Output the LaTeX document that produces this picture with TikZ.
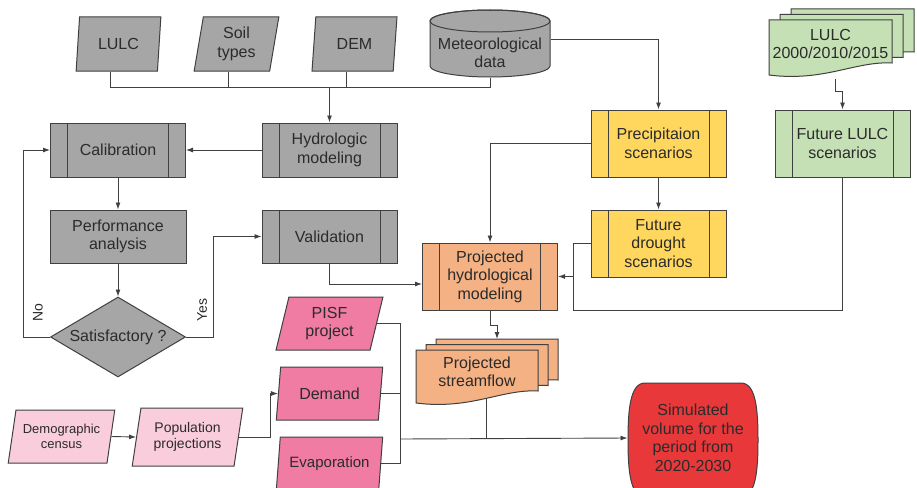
\documentclass[tikz,border=0pt]{standalone}
\usepackage{fontspec}
\setmainfont{Liberation Sans}
\usetikzlibrary{arrows.meta,calc,positioning,shapes.geometric}

\definecolor{boxgray}{HTML}{A6A6A6}
\definecolor{boxyellow}{HTML}{FFD75E}
\definecolor{boxgreen}{HTML}{C5E0B4}
\definecolor{boxorange}{HTML}{F4B183}
\definecolor{boxpink}{HTML}{F07CA3}
\definecolor{boxlightpink}{HTML}{FACDDC}
\definecolor{boxred}{HTML}{E8383A}
\definecolor{edgegray}{HTML}{404040}
\definecolor{inkgray}{HTML}{2B2B2B}

\tikzset{
  base/.style={draw=edgegray, line width=1pt, text=inkgray, align=center, inner sep=0pt,
    font=\fontsize{16}{18.5}\selectfont},
  process/.style={base, rectangle, minimum width=135pt, minimum height=67pt,
    path picture={
      \draw[edgegray, line width=1pt]
        ([xshift=17pt]path picture bounding box.north west) -- ([xshift=17pt]path picture bounding box.south west)
        ([xshift=-17pt]path picture bounding box.north east) -- ([xshift=-17pt]path picture bounding box.south east);}},
  plainbox/.style={base, rectangle, minimum width=136pt, minimum height=53pt},
  datain/.style={base, trapezium, trapezium left angle=81, trapezium right angle=99,
    trapezium stretches=true, minimum width=85pt, minimum height=54pt},
  demandin/.style={datain, fill=boxpink, minimum width=107pt, minimum height=53pt,
    trapezium left angle=77, trapezium right angle=103},
  sidelabel/.style={text=inkgray, inner sep=0pt, rotate=90, font=\fontsize{14}{16}\selectfont},
  link/.style={draw=edgegray, line width=0.9pt},
  arrowlink/.style={link, -{Latex[length=7pt,width=5pt]}},
}

% one sheet of a stacked document: fill, x, y (top left), width, height
\newcommand{\docsheet}[5]{%
  \filldraw[fill=#1, draw=edgegray, line width=1pt]
    (#2,#3) -- ({#2+#4},#3) -- ({#2+#4},{#3+#5-12})
    .. controls ({#2+0.7*#4},{#3+#5-14}) and ({#2+0.45*#4},{#3+#5+7}) .. (#2,{#3+#5}) -- cycle;}

\begin{document}
\begin{tikzpicture}[x=1pt,y=-1pt]
\fill[white] (0,0) rectangle (917,487);
\useasboundingbox (0,0) rectangle (917,487);

% input data
\node[datain, fill=boxgray] (lulc) at (118.5,44) {LULC};
\node[datain, fill=boxgray] (soil) at (236.5,44) {Soil\\types};
\node[datain, fill=boxgray] (dem) at (354.5,44) {DEM};

\filldraw[fill=boxgray, draw=edgegray, line width=1pt]
  (430,21) -- (430,66) arc[start angle=180, end angle=0, x radius=60, y radius=11]
  -- (550,21) arc[start angle=0, end angle=-180, x radius=60, y radius=11] -- cycle;
\draw[edgegray, line width=1pt] (490,21) ellipse[x radius=60, y radius=11];
\node[base, draw=none, minimum width=120pt, minimum height=48pt] (met) at (490,53) {Meteorological\\data};

\docsheet{boxgreen}{791}{9}{123}{55}
\docsheet{boxgreen}{780}{14.5}{123}{55}
\docsheet{boxgreen}{769}{20}{123}{55}
\node[base, draw=none] (lulcdocs) at (830.5,44) {LULC\\2000/2010/2015};

% hydrologic model
\node[process, fill=boxgray, minimum height=54pt] (hydro) at (329.5,150) {Hydrologic\\modeling};
\node[process, fill=boxgray, minimum height=54pt] (calib) at (118,150) {Calibration};
\node[plainbox, fill=boxgray] (perf) at (118,236.5) {Performance\\analysis};
\node[base, diamond, fill=boxgray, minimum width=135pt, minimum height=80pt, aspect=1.7] (satis) at (118,337) {Satisfactory ?};
\node[process, fill=boxgray, minimum height=53pt] (valid) at (329.5,236.5) {Validation};

% scenarios
\node[process, fill=boxyellow] (precip) at (658.5,143.5) {Precipitaion\\scenarios};
\node[process, fill=boxyellow] (drought) at (658.5,243.5) {Future\\drought\\scenarios};
\node[process, fill=boxgreen] (futlulc) at (842.5,143.5) {Future LULC\\scenarios};
\node[process, fill=boxorange] (projhyd) at (490,276.5) {Projected\\hydrological\\modeling};

\docsheet{boxorange}{436}{339}{122}{53}
\docsheet{boxorange}{426}{344.5}{122}{53}
\docsheet{boxorange}{416}{350}{122}{53}
\node[base, draw=none] (flow) at (477,372) {Projected\\streamflow};

% demand side
\node[demandin] (pisf) at (329.5,323.5) {PISF\\project};
\node[demandin] (demand) at (329.5,393.5) {Demand};
\node[demandin, font=\fontsize{15}{18}\selectfont] (evap) at (329.5,463.5) {Evaporation};
\node[datain, fill=boxlightpink, minimum width=107pt, minimum height=53pt,
  trapezium left angle=75, trapezium right angle=105, font=\fontsize{13}{15}\selectfont]
  (census) at (61.5,436.5) {Demographic\\census};
\node[datain, fill=boxlightpink, minimum width=111pt, minimum height=58pt,
  trapezium left angle=77.5, trapezium right angle=102.5, font=\fontsize{14}{15.5}\selectfont]
  (popproj) at (187.5,437) {Population\\projections};

\filldraw[fill=boxred, draw=edgegray, line width=1pt]
  (645,383) -- (741,383) .. controls (756,383) and (758,410) .. (758,440)
  .. controls (758,470) and (756,497) .. (741,497) -- (645,497)
  .. controls (630,497) and (628,470) .. (628,440)
  .. controls (628,410) and (630,383) .. (645,383) -- cycle;
\node[base, draw=none, minimum width=130pt, minimum height=110pt] (simvol) at (693,438)
  {Simulated\\volume for the\\period from\\2020-2030};

% connectors
\coordinate (bus) at (490,87);
\coordinate (lulcstem) at ([xshift=-8pt]lulc.south);
\coordinate (soilstem) at ([xshift=-8pt]soil.south);
\coordinate (demstem) at ([xshift=-8pt]dem.south);
\draw[link] (lulcstem) |- (bus) -- (met.south);
\draw[link] (soilstem) -- (soilstem |- bus);
\draw[link] (demstem) -- (demstem |- bus);
\draw[arrowlink] (hydro.north |- bus) -- (hydro.north);

\draw[arrowlink] (hydro.west) -- (calib.east);
\draw[arrowlink] (calib.south) -- (perf.north);
\draw[arrowlink] (perf.south) -- (satis.north);
\draw[arrowlink] (satis.west) -- ++(-27,0) |- (calib.west);
\node[sidelabel] (nolabel) at (38,313) {No};
\draw[arrowlink] (satis.east) -- ++(27,0) |- (valid.west);
\node[sidelabel] (yeslabel) at (202,310) {Yes};
\draw[arrowlink] (valid.south) |- ([yshift=-7.5pt]projhyd.west);

\draw[arrowlink] ([yshift=14pt]met.east) -| (precip.north);
\draw[arrowlink] (precip.west) -| (projhyd.north);
\draw[arrowlink] (precip.south) -- (drought.north);
\coordinate (joinR) at ($(drought.west)+(-17,0)$);
\draw[arrowlink] (drought.west) -- (joinR) |- (projhyd.east);
\coordinate (lulcout) at (835,79);
\draw[arrowlink] (lulcout) -- ++(0,12) -| (futlulc.north);
\draw[link] (futlulc.south) |- (joinR |- projhyd.south) -- (joinR |- projhyd.east);

\coordinate (flowin) at (497,339);
\draw[arrowlink] (projhyd.south) -- ++(0,15) -| (flowin);
\coordinate (flowout) at (486,399);
\coordinate (bus2) at (400,439);
\draw[link] (pisf.east) -| (bus2);
\draw[link] (evap.east) -| (bus2);
\draw[link] (demand.east) -- (demand.east -| bus2);
\draw[link] (flowout) -- (flowout |- bus2);
\draw[arrowlink] (bus2) -- (simvol.west);

\draw[arrowlink] (census.east) -- (popproj.west);
\draw[arrowlink] (popproj.east) -- ++(32,0) |- (demand.west);

\end{tikzpicture}
\end{document}
